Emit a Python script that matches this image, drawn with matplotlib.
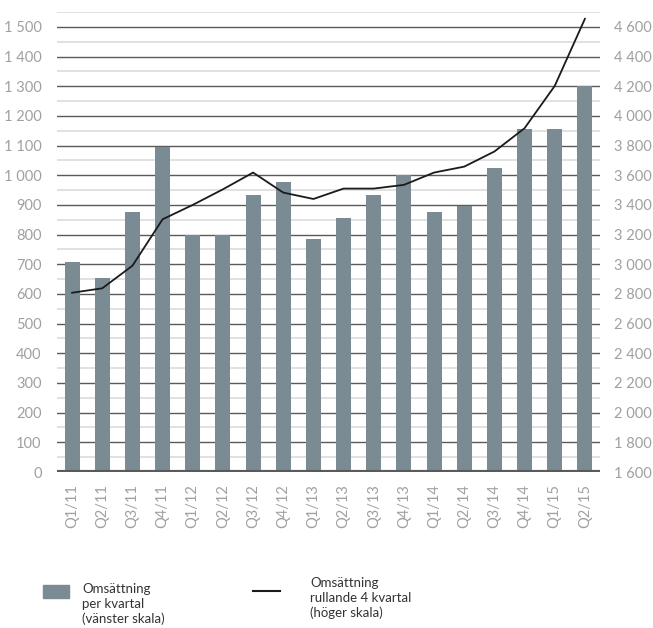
import matplotlib.pyplot as plt
from matplotlib.patches import Rectangle
from matplotlib.lines import Line2D

plt.rcParams['font.family'] = ['Lato', 'DejaVu Sans']

quarters = ['Q1/11', 'Q2/11', 'Q3/11', 'Q4/11', 'Q1/12', 'Q2/12', 'Q3/12', 'Q4/12',
            'Q1/13', 'Q2/13', 'Q3/13', 'Q4/13', 'Q1/14', 'Q2/14', 'Q3/14', 'Q4/14',
            'Q1/15', 'Q2/15']
per_quarter = [708, 655, 877, 1095, 800, 800, 932, 978, 786, 855, 935, 1000,
               875, 895, 1025, 1155, 1155, 1300]
rolling_4q = [2808, 2838, 2990, 3303, 3400, 3505, 3618, 3483, 3440, 3510, 3510,
              3535, 3618, 3658, 3760, 3917, 4202, 4654]

left_ticks = list(range(0, 1501, 100))
right_ticks = list(range(1600, 4601, 200))

bar_color = '#7b8b94'
tick_color = '#a0a0a0'


def fmt(v):
    return f'{v:,}'.replace(',', ' ')


fig = plt.figure(figsize=(6.53, 6.28), dpi=100)
ax = fig.add_axes([57 / 653, 156 / 628, 543 / 653, 460 / 628])

x = list(range(len(quarters)))
ax.set_xlim(-0.5, len(quarters) - 0.5)
ax.set_ylim(0, 1550)

# grid: light half steps, darker full steps
for v in range(50, 1551, 100):
    ax.axhline(v, color='#dcdcdc', lw=1.2, zorder=0)
for v in left_ticks[1:]:
    ax.axhline(v, color='#5a5a5a', lw=1.0, zorder=0)

ax.bar(x, per_quarter, width=0.5, color=bar_color, zorder=2)
ax.axhline(0, color='#5a5a5a', lw=3, zorder=3)

ax2 = ax.twinx()
ax2.set_ylim(1600, 1600 + 2 * 1550)
ax2.plot(x, rolling_4q, color='#1a1a1a', lw=1.3, zorder=4)

for a in (ax, ax2):
    for s in a.spines.values():
        s.set_visible(False)

ax.set_yticks(left_ticks)
ax.set_yticklabels([fmt(v) for v in left_ticks])
ax2.set_yticks(right_ticks)
ax2.set_yticklabels([fmt(v) for v in right_ticks])
ax.tick_params(axis='y', length=0, pad=11, labelsize=10.5, labelcolor=tick_color)
ax2.tick_params(axis='y', length=0, pad=10, labelsize=10.5, labelcolor=tick_color)
ax.set_xticks(x)
ax.set_xticklabels(quarters, rotation=90)
ax.tick_params(axis='x', length=0, pad=9, labelsize=10.5, labelcolor=tick_color)

# legend
fig.add_artist(Rectangle((43 / 653, 1 - 598 / 628), 26 / 653, 13 / 628,
                         transform=fig.transFigure, color=bar_color))
fig.text(82 / 653, 1 - 583 / 628, 'Omsättning\nper kvartal\n(vänster skala)',
         fontsize=9.5, color='#333333', va='top', ha='left', linespacing=1.25)
fig.add_artist(Line2D([253 / 653, 280 / 653], [1 - 591 / 628, 1 - 591 / 628],
                      transform=fig.transFigure, color='#1a1a1a', lw=1.5))
fig.text(310 / 653, 1 - 577 / 628, 'Omsättning\nrullande 4 kvartal\n(höger skala)',
         fontsize=9.5, color='#333333', va='top', ha='left', linespacing=1.25)

fig.savefig('out.png', dpi=100)
